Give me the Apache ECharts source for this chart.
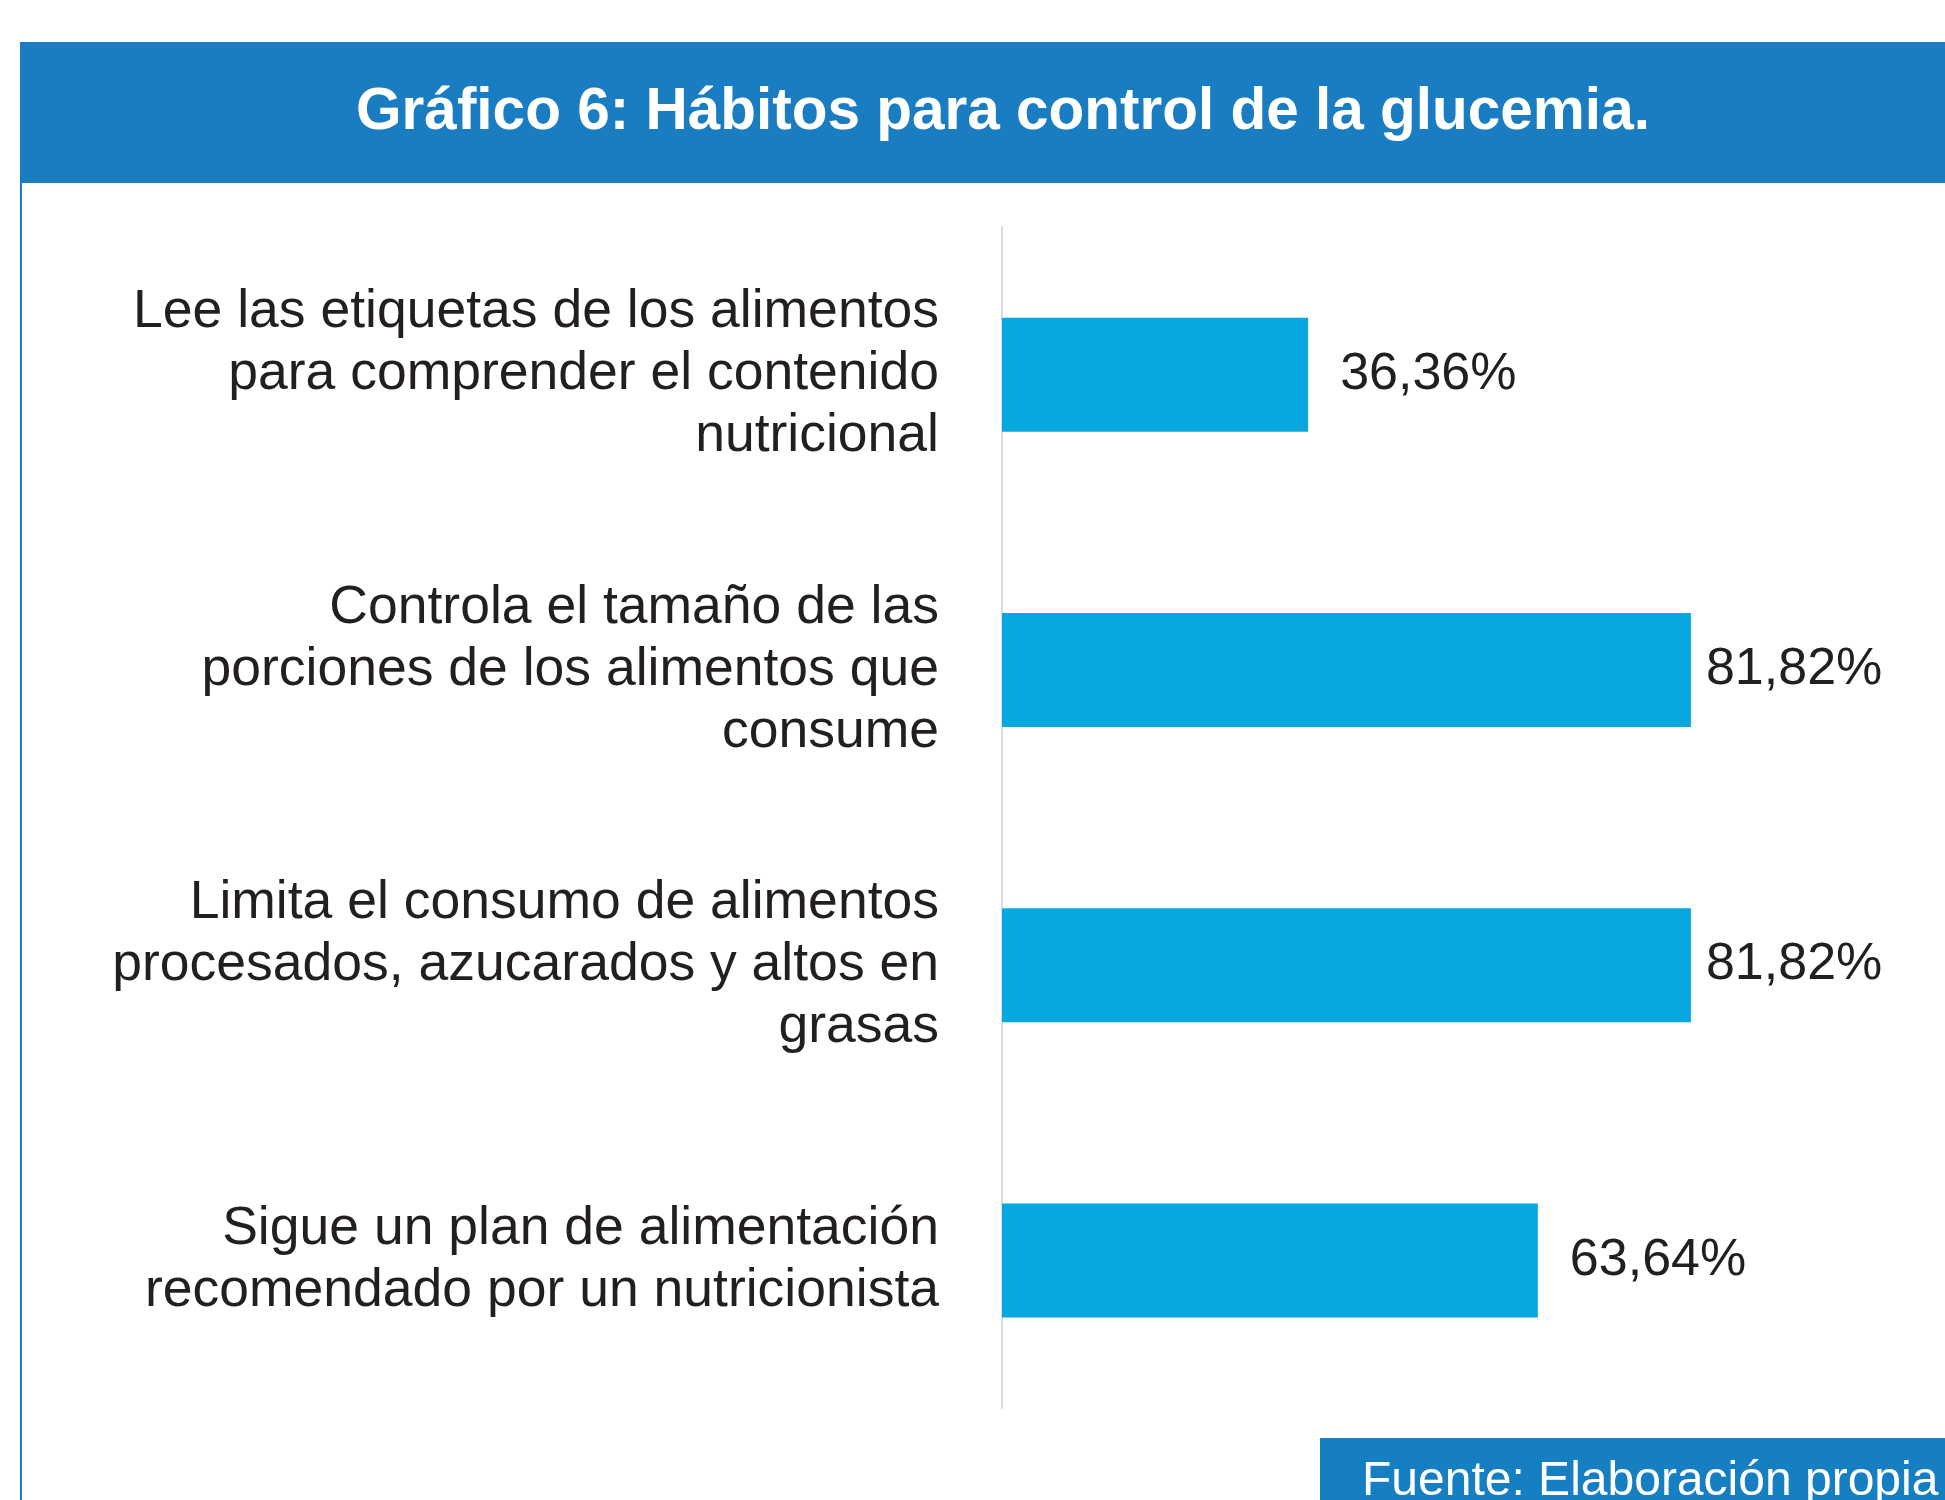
<!DOCTYPE html>
<html>
<head>
<meta charset="utf-8">
<script src="https://cdn.jsdelivr.net/npm/echarts@6/dist/echarts.min.js"></script>
<style>
  html, body { margin: 0; padding: 0; background: #fff; }
  #chart { width: 1945px; height: 1500px; }
</style>
</head>
<body>
<div id="chart"></div>
<script>
// categorias y valores del gráfico
const categories = [
  'Lee las etiquetas de los alimentos\npara comprender el contenido\nnutricional',
  'Controla el tamaño de las\nporciones de los alimentos que\nconsume',
  'Limita el consumo de alimentos\nprocesados, azucarados y altos en\ngrasas',
  'Sigue un plan de alimentación\nrecomendado por un nutricionista'
];
const values = [36.36, 81.82, 81.82, 63.64];
const titleText = 'Gráfico 6: Hábitos para control de la glucemia.';
const sourceText = 'Fuente: Elaboración propia';

const font = '"Liberation Sans", Arial, sans-serif';
const blue = '#1a7dc1';

const chart = echarts.init(document.getElementById('chart'));

// etiquetas largas quedan más pegadas a la barra
const seriesData = values.map(v => ({
  value: v,
  label: { distance: v > 80 ? 15 : 32 }
}));

chart.setOption({
  animation: false,
  grid: { left: 1002, right: 101, top: 227, bottom: 92 },
  xAxis: {
    type: 'value',
    min: 0,
    max: 100,
    show: false
  },
  yAxis: {
    type: 'category',
    inverse: true,
    offset: 2,
    data: categories,
    axisTick: { show: false },
    axisLine: { show: true, lineStyle: { color: '#dcdcdc', width: 2 } },
    axisLabel: {
      margin: 61,
      align: 'right',
      color: '#231f20',
      fontFamily: font,
      fontSize: 53.5,
      lineHeight: 62
    }
  },
  series: [{
    type: 'bar',
    barWidth: 114,
    data: seriesData,
    itemStyle: { color: '#07a8e0' },
    label: {
      show: true,
      position: 'right',
      color: '#231f20',
      fontFamily: font,
      fontSize: 52,
      formatter: p => p.value.toFixed(2).replace('.', ',') + '%'
    }
  }],
  graphic: [
    { type: 'rect', shape: { x: 20, y: 42, width: 1925, height: 141 }, style: { fill: blue } },
    { type: 'rect', shape: { x: 20, y: 183, width: 2, height: 1317 }, style: { fill: blue } },
    {
      type: 'text', x: 1003, y: 113,
      style: {
        text: titleText, fill: '#fff', font: 'bold 58.5px ' + font,
        textAlign: 'center', textVerticalAlign: 'middle'
      }
    },
    { type: 'rect', shape: { x: 1320, y: 1438, width: 625, height: 62 }, style: { fill: '#157fc2' } },
    {
      type: 'text', x: 1362, y: 1482,
      style: {
        text: sourceText, fill: '#fff', font: '48px ' + font,
        textAlign: 'left', textVerticalAlign: 'middle'
      }
    }
  ]
});
</script>
</body>
</html>
